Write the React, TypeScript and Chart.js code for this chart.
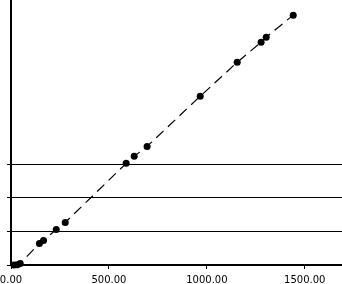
import React, { useEffect, useRef } from "react";
import { Chart, registerables } from "chart.js";

Chart.register(...registerables);

const xValues = [15, 32, 47, 145, 166, 231, 277, 588, 629, 695, 966, 1155, 1277, 1303, 1441];
const yValues = [0, 2, 9, 128, 146, 211, 253, 604, 646, 705, 1003, 1205, 1324, 1354, 1485];
const xTicks = [0, 500, 1000, 1500];
const yTicks = [0, 200, 400, 600];

export default function App() {
  const ref = useRef<HTMLCanvasElement>(null);
  useEffect(() => {
    if (!ref.current) return;
    const points = xValues.map((x, i) => ({ x, y: yValues[i] }));
    const chart = new Chart(ref.current, {
      type: "scatter",
      data: {
        datasets: [
          {
            data: points,
            showLine: true,
            borderColor: "#000",
            borderWidth: 1.2,
            borderDash: [10, 6],
            pointRadius: 3.5,
            pointBackgroundColor: "#000",
            pointBorderColor: "#000",
            pointBorderWidth: 0,
            clip: false as any,
          },
        ],
      },
      options: {
        responsive: false,
        animation: false,
        plugins: { legend: { display: false }, tooltip: { enabled: false } },
        layout: { padding: 0, autoPadding: false },
        scales: {
          x: {
            type: "linear",
            min: 0,
            max: 1690,
            afterBuildTicks: (s: any) => {
              s.ticks = xTicks.map((v) => ({ value: v }));
            },
            afterFit: (s: any) => {
              s.height = 19;
              s.paddingLeft = 11;
              s.paddingRight = 0;
            },
            border: { display: true, color: "#000", width: 2 },
            grid: { drawOnChartArea: false, drawTicks: true, tickLength: 4, color: "#000", lineWidth: 1 },
            ticks: {
              color: "#000",
              padding: 5,
              maxRotation: 0,
              font: { family: "DejaVu Sans", size: 10 },
              callback: (v: any) => Number(v).toFixed(2),
            },
          },
          y: {
            type: "linear",
            min: 0,
            max: 1575,
            afterBuildTicks: (s: any) => {
              s.ticks = yTicks.map((v) => ({ value: v }));
            },
            border: { display: true, color: "#000", width: 2 },
            grid: { drawOnChartArea: true, drawTicks: true, tickLength: 4, color: "#000", lineWidth: 1 },
            ticks: { display: false },
          },
        },
      },
    });
    return () => chart.destroy();
  }, []);
  return (
    <div style={{ position: "fixed", left: 0, top: 0, width: 342, height: 284, background: "#fff" }}>
      <canvas ref={ref} width={342} height={284} style={{ display: "block" }} />
    </div>
  );
}
